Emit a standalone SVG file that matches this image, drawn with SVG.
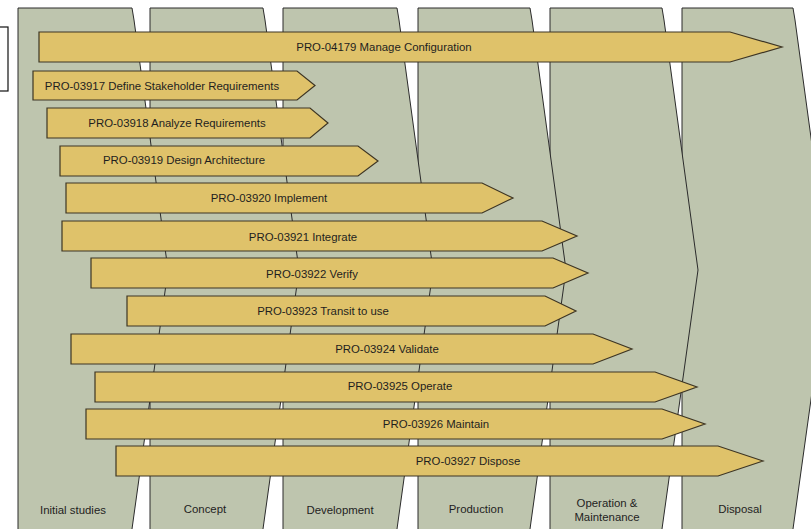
<svg xmlns="http://www.w3.org/2000/svg" width="811" height="529" viewBox="0 0 811 529">
<style>
.col{fill:#BEC5AE;stroke:#2b2b2b;stroke-width:1}
.arr{fill:#DFC26A;stroke:#3d3524;stroke-width:1.2}
.t{font-family:"Liberation Sans",Arial,sans-serif;font-size:11.4px;fill:#1e1e1e;text-anchor:middle}
</style>
<rect x="0" y="0" width="811" height="529" fill="#ffffff"/>
<g id="legend-box"><rect x="-10" y="27" width="18" height="64" fill="#ffffff" stroke="#111" stroke-width="1.2"/></g>
<g id="phases">
<g id="col-disposal"><path class="col" d="M682,8 H793 L795,20 L829,270 L793,529 L792,540 H682 Z"/><text class="t" x="740" y="513">Disposal</text></g>
<g id="col-operation"><path class="col" d="M550,8 H662 L664,20 L698,270 L662,529 L661,540 H550 Z"/><text class="t" x="607" y="507">Operation &amp;</text><text class="t" x="607" y="521">Maintenance</text></g>
<g id="col-production"><path class="col" d="M418,8 H530 L532,20 L566,270 L530,529 L529,540 H418 Z"/><text class="t" x="476" y="513">Production</text></g>
<g id="col-development"><path class="col" d="M283,8 H397 L399,20 L433,270 L397,529 L396,540 H283 Z"/><text class="t" x="340" y="514">Development</text></g>
<g id="col-concept"><path class="col" d="M150,8 H263 L265,20 L299,270 L263,529 L262,540 H150 Z"/><text class="t" x="205" y="513">Concept</text></g>
<g id="col-initial"><path class="col" d="M18,8 H132 L134,20 L168,270 L132,529 L131,540 H18 Z"/><text class="t" x="73" y="514">Initial studies</text></g>
</g>
<g id="processes">
<g id="pro-04179"><path class="arr" d="M39,32 H730 L782,47 L730,62 H39 Z"/><text class="t" x="384" y="51">PRO-04179 Manage Configuration</text></g>
<g id="pro-03917"><path class="arr" d="M33,71 H297 L315,85.5 L297,100 H33 Z"/><text class="t" x="162" y="90">PRO-03917 Define Stakeholder Requirements</text></g>
<g id="pro-03918"><path class="arr" d="M47,108 H310 L328,123 L310,138 H47 Z"/><text class="t" x="177" y="127">PRO-03918 Analyze Requirements</text></g>
<g id="pro-03919"><path class="arr" d="M60,146 H358 L378,161 L358,176 H60 Z"/><text class="t" x="184" y="164">PRO-03919 Design Architecture</text></g>
<g id="pro-03920"><path class="arr" d="M66,183 H482 L513,198 L482,213 H66 Z"/><text class="t" x="269" y="202">PRO-03920 Implement</text></g>
<g id="pro-03921"><path class="arr" d="M62,221 H542 L577,236 L542,251 H62 Z"/><text class="t" x="303" y="241">PRO-03921 Integrate</text></g>
<g id="pro-03922"><path class="arr" d="M91,258 H553 L588,273 L553,288 H91 Z"/><text class="t" x="312" y="278">PRO-03922 Verify</text></g>
<g id="pro-03923"><path class="arr" d="M127,296 H545 L576,311 L545,326 H127 Z"/><text class="t" x="323" y="315">PRO-03923 Transit to use</text></g>
<g id="pro-03924"><path class="arr" d="M71,334 H593 L632,349 L593,364 H71 Z"/><text class="t" x="387" y="353">PRO-03924 Validate</text></g>
<g id="pro-03925"><path class="arr" d="M95,372 H655 L697,387 L655,402 H95 Z"/><text class="t" x="400" y="390">PRO-03925 Operate</text></g>
<g id="pro-03926"><path class="arr" d="M86,409 H662 L705,424 L662,439 H86 Z"/><text class="t" x="436" y="428">PRO-03926 Maintain</text></g>
<g id="pro-03927"><path class="arr" d="M116,446 H718 L763,461 L718,476 H116 Z"/><text class="t" x="468" y="465">PRO-03927 Dispose</text></g>
</g>
<g id="connectors"/>
</svg>
